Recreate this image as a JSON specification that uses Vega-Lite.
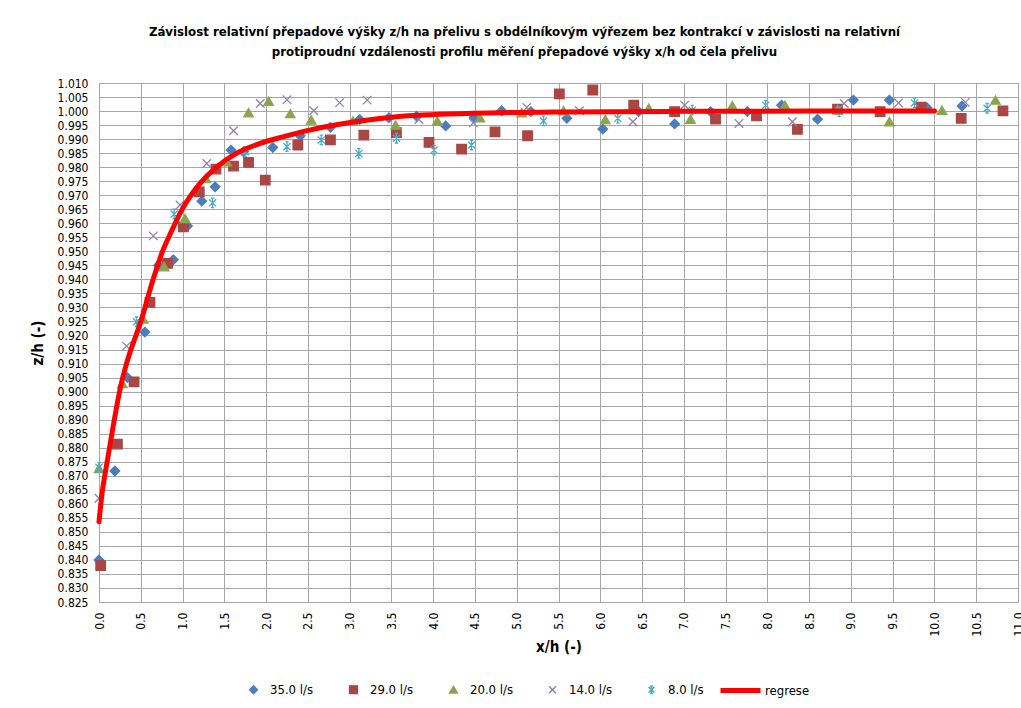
{
  "$schema": "https://vega.github.io/schema/vega-lite/v6.json",
  "autosize": "none",
  "width": 919,
  "height": 519,
  "padding": {"left": 99, "top": 83, "right": 3, "bottom": 106},
  "background": "white",
  "config": {
    "font": "Liberation Sans Narrow, DejaVu Sans Condensed, sans-serif",
    "view": {"stroke": "#a0a0a0"},
    "axis": {"labelFont": "Liberation Sans Narrow, DejaVu Sans Condensed, sans-serif", "labelFontSize": 12, "labelColor": "#000000", "gridColor": "#a6a6a6", "gridOpacity": 1, "domain": false, "ticks": false, "titleFontWeight": "bold", "titleFontSize": 15, "titleColor": "#000000"},
    "legend": {"labelFont": "Liberation Sans Narrow, DejaVu Sans Condensed, sans-serif", "labelFontSize": 13, "labelColor": "#000000"}
  },
  "title": {
    "text": ["Závislost relativní přepadové výšky z/h na přelivu s obdélníkovým výřezem bez kontrakcí v závislosti na relativní", "protiproudní vzdálenosti profilu měření přepadové výšky x/h od čela přelivu"],
    "fontSize": 13.1,
    "fontWeight": "bold",
    "color": "#000000",
    "anchor": "middle",
    "dx": -34,
    "offset": 18,
    "lineHeight": 20
  },
  "datasets": {
    "pts": [
      {"x": 0.0, "y": 0.840, "series": "35.0 l/s"},
      {"x": 0.19, "y": 0.8717, "series": "35.0 l/s"},
      {"x": 0.34, "y": 0.905, "series": "35.0 l/s"},
      {"x": 0.55, "y": 0.9212, "series": "35.0 l/s"},
      {"x": 0.71, "y": 0.945, "series": "35.0 l/s"},
      {"x": 0.89, "y": 0.947, "series": "35.0 l/s"},
      {"x": 1.06, "y": 0.959, "series": "35.0 l/s"},
      {"x": 1.23, "y": 0.9679, "series": "35.0 l/s"},
      {"x": 1.39, "y": 0.973, "series": "35.0 l/s"},
      {"x": 1.58, "y": 0.9861, "series": "35.0 l/s"},
      {"x": 1.73, "y": 0.9855, "series": "35.0 l/s"},
      {"x": 2.08, "y": 0.987, "series": "35.0 l/s"},
      {"x": 2.41, "y": 0.9912, "series": "35.0 l/s"},
      {"x": 2.77, "y": 0.9942, "series": "35.0 l/s"},
      {"x": 3.12, "y": 0.997, "series": "35.0 l/s"},
      {"x": 3.47, "y": 0.9976, "series": "35.0 l/s"},
      {"x": 3.80, "y": 0.9982, "series": "35.0 l/s"},
      {"x": 4.15, "y": 0.9947, "series": "35.0 l/s"},
      {"x": 4.49, "y": 0.9977, "series": "35.0 l/s"},
      {"x": 4.82, "y": 1.0001, "series": "35.0 l/s"},
      {"x": 5.17, "y": 0.9998, "series": "35.0 l/s"},
      {"x": 5.60, "y": 0.9974, "series": "35.0 l/s"},
      {"x": 6.03, "y": 0.9936, "series": "35.0 l/s"},
      {"x": 6.46, "y": 0.9998, "series": "35.0 l/s"},
      {"x": 6.89, "y": 0.9954, "series": "35.0 l/s"},
      {"x": 7.32, "y": 0.9998, "series": "35.0 l/s"},
      {"x": 7.76, "y": 0.9998, "series": "35.0 l/s"},
      {"x": 8.17, "y": 1.0021, "series": "35.0 l/s"},
      {"x": 8.60, "y": 0.9971, "series": "35.0 l/s"},
      {"x": 9.03, "y": 1.0039, "series": "35.0 l/s"},
      {"x": 9.46, "y": 1.0039, "series": "35.0 l/s"},
      {"x": 9.91, "y": 1.0012, "series": "35.0 l/s"},
      {"x": 10.33, "y": 1.0018, "series": "35.0 l/s"},
      {"x": 0.02, "y": 0.838, "series": "29.0 l/s"},
      {"x": 0.22, "y": 0.8813, "series": "29.0 l/s"},
      {"x": 0.42, "y": 0.9035, "series": "29.0 l/s"},
      {"x": 0.61, "y": 0.9318, "series": "29.0 l/s"},
      {"x": 0.82, "y": 0.9457, "series": "29.0 l/s"},
      {"x": 1.01, "y": 0.9587, "series": "29.0 l/s"},
      {"x": 1.20, "y": 0.9712, "series": "29.0 l/s"},
      {"x": 1.40, "y": 0.9793, "series": "29.0 l/s"},
      {"x": 1.61, "y": 0.9804, "series": "29.0 l/s"},
      {"x": 1.79, "y": 0.9817, "series": "29.0 l/s"},
      {"x": 1.99, "y": 0.9754, "series": "29.0 l/s"},
      {"x": 2.38, "y": 0.9879, "series": "29.0 l/s"},
      {"x": 2.77, "y": 0.9897, "series": "29.0 l/s"},
      {"x": 3.17, "y": 0.9914, "series": "29.0 l/s"},
      {"x": 3.56, "y": 0.9923, "series": "29.0 l/s"},
      {"x": 3.95, "y": 0.9888, "series": "29.0 l/s"},
      {"x": 4.34, "y": 0.9864, "series": "29.0 l/s"},
      {"x": 4.74, "y": 0.9926, "series": "29.0 l/s"},
      {"x": 5.13, "y": 0.9912, "series": "29.0 l/s"},
      {"x": 5.51, "y": 1.0061, "series": "29.0 l/s"},
      {"x": 5.91, "y": 1.0075, "series": "29.0 l/s"},
      {"x": 6.40, "y": 1.0021, "series": "29.0 l/s"},
      {"x": 6.89, "y": 0.9998, "series": "29.0 l/s"},
      {"x": 7.38, "y": 0.9971, "series": "29.0 l/s"},
      {"x": 7.87, "y": 0.9983, "series": "29.0 l/s"},
      {"x": 8.36, "y": 0.9935, "series": "29.0 l/s"},
      {"x": 8.84, "y": 1.0007, "series": "29.0 l/s"},
      {"x": 9.35, "y": 0.9998, "series": "29.0 l/s"},
      {"x": 9.84, "y": 1.0014, "series": "29.0 l/s"},
      {"x": 10.32, "y": 0.9974, "series": "29.0 l/s"},
      {"x": 10.82, "y": 1.0001, "series": "29.0 l/s"},
      {"x": 0.0, "y": 0.8726, "series": "20.0 l/s"},
      {"x": 0.28, "y": 0.9029, "series": "20.0 l/s"},
      {"x": 0.53, "y": 0.9259, "series": "20.0 l/s"},
      {"x": 0.78, "y": 0.9445, "series": "20.0 l/s"},
      {"x": 1.03, "y": 0.9617, "series": "20.0 l/s"},
      {"x": 1.28, "y": 0.976, "series": "20.0 l/s"},
      {"x": 1.53, "y": 0.9819, "series": "20.0 l/s"},
      {"x": 1.79, "y": 0.9994, "series": "20.0 l/s"},
      {"x": 2.03, "y": 1.0035, "series": "20.0 l/s"},
      {"x": 2.29, "y": 0.9991, "series": "20.0 l/s"},
      {"x": 2.54, "y": 0.9968, "series": "20.0 l/s"},
      {"x": 3.04, "y": 0.9965, "series": "20.0 l/s"},
      {"x": 3.55, "y": 0.995, "series": "20.0 l/s"},
      {"x": 4.05, "y": 0.9965, "series": "20.0 l/s"},
      {"x": 4.56, "y": 0.9976, "series": "20.0 l/s"},
      {"x": 5.06, "y": 0.9994, "series": "20.0 l/s"},
      {"x": 5.56, "y": 1.0001, "series": "20.0 l/s"},
      {"x": 6.06, "y": 0.997, "series": "20.0 l/s"},
      {"x": 6.58, "y": 1.001, "series": "20.0 l/s"},
      {"x": 7.08, "y": 0.9971, "series": "20.0 l/s"},
      {"x": 7.58, "y": 1.0019, "series": "20.0 l/s"},
      {"x": 8.21, "y": 1.0021, "series": "20.0 l/s"},
      {"x": 8.84, "y": 1.0006, "series": "20.0 l/s"},
      {"x": 9.46, "y": 0.9962, "series": "20.0 l/s"},
      {"x": 10.09, "y": 1.0003, "series": "20.0 l/s"},
      {"x": 10.73, "y": 1.0039, "series": "20.0 l/s"},
      {"x": 0.0, "y": 0.862, "series": "14.0 l/s"},
      {"x": 0.33, "y": 0.9162, "series": "14.0 l/s"},
      {"x": 0.65, "y": 0.9555, "series": "14.0 l/s"},
      {"x": 0.97, "y": 0.9665, "series": "14.0 l/s"},
      {"x": 1.29, "y": 0.9813, "series": "14.0 l/s"},
      {"x": 1.61, "y": 0.993, "series": "14.0 l/s"},
      {"x": 1.93, "y": 1.0027, "series": "14.0 l/s"},
      {"x": 2.25, "y": 1.004, "series": "14.0 l/s"},
      {"x": 2.57, "y": 1.0001, "series": "14.0 l/s"},
      {"x": 2.88, "y": 1.003, "series": "14.0 l/s"},
      {"x": 3.21, "y": 1.0039, "series": "14.0 l/s"},
      {"x": 3.83, "y": 0.997, "series": "14.0 l/s"},
      {"x": 4.48, "y": 0.9958, "series": "14.0 l/s"},
      {"x": 5.12, "y": 1.0013, "series": "14.0 l/s"},
      {"x": 5.75, "y": 1.0001, "series": "14.0 l/s"},
      {"x": 6.39, "y": 0.9962, "series": "14.0 l/s"},
      {"x": 7.01, "y": 1.0021, "series": "14.0 l/s"},
      {"x": 7.66, "y": 0.9956, "series": "14.0 l/s"},
      {"x": 8.30, "y": 0.9962, "series": "14.0 l/s"},
      {"x": 8.92, "y": 1.0027, "series": "14.0 l/s"},
      {"x": 9.57, "y": 1.0029, "series": "14.0 l/s"},
      {"x": 10.37, "y": 1.0031, "series": "14.0 l/s"},
      {"x": 0.0, "y": 0.873, "series": "8.0 l/s"},
      {"x": 0.45, "y": 0.9249, "series": "8.0 l/s"},
      {"x": 0.90, "y": 0.9633, "series": "8.0 l/s"},
      {"x": 1.36, "y": 0.9673, "series": "8.0 l/s"},
      {"x": 1.75, "y": 0.9855, "series": "8.0 l/s"},
      {"x": 2.25, "y": 0.9873, "series": "8.0 l/s"},
      {"x": 2.66, "y": 0.9897, "series": "8.0 l/s"},
      {"x": 3.11, "y": 0.9849, "series": "8.0 l/s"},
      {"x": 3.56, "y": 0.9903, "series": "8.0 l/s"},
      {"x": 4.01, "y": 0.9861, "series": "8.0 l/s"},
      {"x": 4.46, "y": 0.9879, "series": "8.0 l/s"},
      {"x": 5.32, "y": 0.9965, "series": "8.0 l/s"},
      {"x": 6.21, "y": 0.9974, "series": "8.0 l/s"},
      {"x": 7.10, "y": 1.0003, "series": "8.0 l/s"},
      {"x": 7.98, "y": 1.0021, "series": "8.0 l/s"},
      {"x": 8.86, "y": 0.9998, "series": "8.0 l/s"},
      {"x": 9.76, "y": 1.0029, "series": "8.0 l/s"},
      {"x": 10.63, "y": 1.001, "series": "8.0 l/s"}
    ],
    "fit": [
      {"x": 0.0, "y": 0.8536, "fit": "regrese"},
      {"x": 0.036, "y": 0.8636, "fit": "regrese"},
      {"x": 0.084, "y": 0.8726, "fit": "regrese"},
      {"x": 0.135, "y": 0.8816, "fit": "regrese"},
      {"x": 0.267, "y": 0.9029, "fit": "regrese"},
      {"x": 0.33, "y": 0.910, "fit": "regrese"},
      {"x": 0.506, "y": 0.9255, "fit": "regrese"},
      {"x": 0.634, "y": 0.9386, "fit": "regrese"},
      {"x": 0.766, "y": 0.9504, "fit": "regrese"},
      {"x": 0.85, "y": 0.956, "fit": "regrese"},
      {"x": 0.99, "y": 0.9647, "fit": "regrese"},
      {"x": 1.21, "y": 0.9742, "fit": "regrese"},
      {"x": 1.41, "y": 0.9801, "fit": "regrese"},
      {"x": 1.65, "y": 0.985, "fit": "regrese"},
      {"x": 1.93, "y": 0.9885, "fit": "regrese"},
      {"x": 2.20, "y": 0.9908, "fit": "regrese"},
      {"x": 2.52, "y": 0.9932, "fit": "regrese"},
      {"x": 2.86, "y": 0.9952, "fit": "regrese"},
      {"x": 3.56, "y": 0.998, "fit": "regrese"},
      {"x": 4.48, "y": 0.9992, "fit": "regrese"},
      {"x": 5.55, "y": 0.9997, "fit": "regrese"},
      {"x": 7.0, "y": 0.9999, "fit": "regrese"},
      {"x": 8.5, "y": 1.0, "fit": "regrese"},
      {"x": 10.0, "y": 1.0, "fit": "regrese"}
    ]
  },
  "encoding": {
    "x": {"field": "x", "type": "quantitative",
      "scale": {"domain": [0, 11], "nice": false, "zero": false},
      "axis": {"title": "x/h (-)", "values": [0,0.5,1,1.5,2,2.5,3,3.5,4,4.5,5,5.5,6,6.5,7,7.5,8,8.5,9,9.5,10,10.5,11], "format": ".1f", "labelAngle": 270, "labelPadding": 10, "titlePadding": 3}},
    "y": {"field": "y", "type": "quantitative",
      "scale": {"domain": [0.825, 1.01], "nice": false, "zero": false},
      "axis": {"title": "z/h (-)", "values": [0.825,0.83,0.835,0.84,0.845,0.85,0.855,0.86,0.865,0.87,0.875,0.88,0.885,0.89,0.895,0.9,0.905,0.91,0.915,0.92,0.925,0.93,0.935,0.94,0.945,0.95,0.955,0.96,0.965,0.97,0.975,0.98,0.985,0.99,0.995,1.0,1.005,1.01], "format": ".3f", "labelPadding": 11, "titlePadding": 12}}
  },
  "layer": [
    {
      "data": {"name": "pts"},
      "mark": {"type": "point", "filled": true, "size": 90, "strokeWidth": 1.3, "opacity": 1},
      "encoding": {
        "fill": {"field": "series", "type": "nominal", "scale": {"domain": ["35.0 l/s", "29.0 l/s", "20.0 l/s", "14.0 l/s", "8.0 l/s"], "range": ["#4a7ebb", "#aa4643", "#89a54e", "#9380b0", "#4bacc6"]},
          "legend": {"title": null, "orient": "none", "legendX": 148, "legendY": 600, "direction": "horizontal", "columns": 5, "columnPadding": 32, "symbolSize": 60, "labelOffset": 10}},
        "stroke": {"field": "series", "type": "nominal", "scale": {"domain": ["35.0 l/s", "29.0 l/s", "20.0 l/s", "14.0 l/s", "8.0 l/s"], "range": ["#4a7ebb", "#aa4643", "#89a54e", "#9380b0", "#4bacc6"]},
          "legend": {"title": null, "orient": "none", "legendX": 148, "legendY": 600, "direction": "horizontal", "columns": 5, "columnPadding": 32, "symbolSize": 60, "labelOffset": 10}},
        "shape": {"field": "series", "type": "nominal", "scale": {"domain": ["35.0 l/s", "29.0 l/s", "20.0 l/s", "14.0 l/s", "8.0 l/s"], "range": ["diamond", "square", "triangle-up", "M-0.9,-0.9L0.9,0.9M-0.9,0.9L0.9,-0.9", "M0,-1L0,1M-0.35,-1L0.35,-1M-0.35,1L0.35,1M-0.75,-0.75L0.75,0.75M-0.75,0.75L0.75,-0.75"]},
          "legend": {"title": null, "orient": "none", "legendX": 148, "legendY": 600, "direction": "horizontal", "columns": 5, "columnPadding": 32, "symbolSize": 60, "labelOffset": 10}}
      }
    },
    {
      "data": {"name": "fit"},
      "mark": {"type": "line", "strokeWidth": 5, "strokeCap": "round", "interpolate": "monotone"},
      "encoding": {
        "color": {"field": "fit", "type": "nominal", "scale": {"domain": ["regrese"], "range": ["#ff0000"]},
          "legend": {"title": null, "orient": "none", "legendX": 619, "legendY": 585, "symbolType": "stroke", "symbolSize": 1600, "symbolStrokeWidth": 5, "labelOffset": 2}}
      }
    }
  ]
}
